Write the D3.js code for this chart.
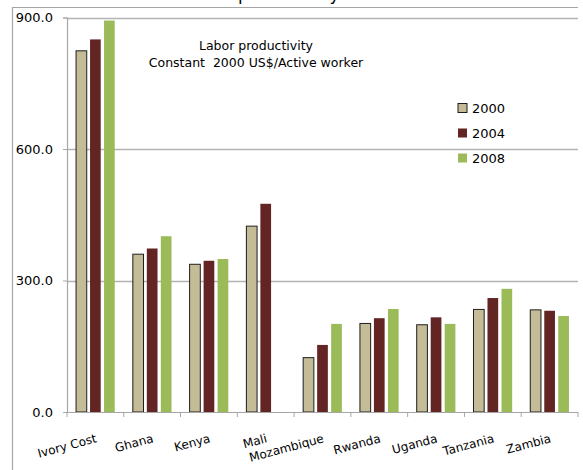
<!DOCTYPE html>
<html>
<head>
<meta charset="utf-8">
<script src="https://cdn.jsdelivr.net/npm/d3@7"></script>
<style>
  html, body { margin: 0; padding: 0; background: #fff; }
  svg { display: block; }
  text { font-family: "DejaVu Sans", sans-serif; fill: #000; }
</style>
</head>
<body>
<svg id="chart" width="583" height="470"></svg>
<script>
// Labor productivity by country, constant 2000 US$ per active worker
const countries = ["Ivory Cost", "Ghana", "Kenya", "Mali", "Mozambique", "Rwanda", "Uganda", "Tanzania", "Zambia"];
const years = ["2000", "2004", "2008"];
const values2000 = [824, 360, 337, 424, 124, 202, 199, 234, 233];
const values2004 = [850, 373, 345, 475, 153, 214, 216, 260, 231];
const values2008 = [893, 401, 349, null, 201, 235, 201, 281, 219];
const yTicks = [0, 300, 600, 900];
const colors = ["#C4BC96", "#632523", "#9BBB59"];

const series = [values2000, values2004, values2008];
const rows = countries.map((c, i) => ({
  country: c,
  vals: years.map((yr, k) => ({ year: yr, k, value: series[k][i] }))
}));

const svg = d3.select("#chart");
const plotLeft = 67, plotRight = 578, plotTop = 17.5, plotBottom = 412;

const x0 = d3.scaleBand().domain(countries).range([plotLeft, plotRight]).paddingInner(0).paddingOuter(0);
const x1 = d3.scaleBand().domain(years).range([0, x0.bandwidth()]).paddingInner(0.236).paddingOuter(0.646);
const y = d3.scaleLinear().domain([0, 900]).range([plotBottom, plotTop]);

// Outer chart frame (left and top edges)
svg.append("path")
  .attr("d", `M12.5,470 L12.5,7.5 L578,7.5`)
  .attr("fill", "none").attr("stroke", "#a6a6a6").attr("stroke-width", 1.2);

// Clipped chart title
svg.append("text")
  .attr("x", 262).attr("y", 0)
  .attr("text-anchor", "middle")
  .style("font-size", "17px")
  .text("Labor productivity");

// Horizontal gridlines
svg.append("g")
  .selectAll("line")
  .data(yTicks.filter(t => t > 0))
  .join("line")
  .attr("x1", plotLeft).attr("x2", plotRight)
  .attr("y1", d => Math.round(y(d)) + 0.5).attr("y2", d => Math.round(y(d)) + 0.5)
  .attr("stroke", "#b3b3b3").attr("stroke-width", 1.5);

// Y axis
const yAxis = svg.append("g")
  .attr("transform", `translate(${plotLeft},0)`)
  .call(d3.axisLeft(y).tickValues(yTicks).tickSize(4).tickPadding(10).tickFormat(d3.format(".1f")));
yAxis.select(".domain").attr("stroke", "#a6a6a6").attr("stroke-width", 1.2);
yAxis.selectAll(".tick line").attr("stroke", "#a6a6a6");
yAxis.selectAll(".tick text").style("font-size", "13px").style("font-family", "DejaVu Sans, sans-serif").attr("fill", "#000");

// Bars
const groups = svg.append("g")
  .selectAll("g")
  .data(rows)
  .join("g")
  .attr("transform", d => `translate(${x0(d.country)},0)`);

groups.selectAll("rect")
  .data(d => d.vals.filter(v => v.value != null))
  .join("rect")
  .attr("x", d => x1(d.year))
  .attr("width", x1.bandwidth())
  .attr("y", d => y(d.value))
  .attr("height", d => y(0) - y(d.value))
  .attr("fill", d => colors[d.k])
  .attr("stroke", d => d.k === 0 ? "#1e1e1e" : "none")
  .attr("stroke-width", 1);

// X axis
const xAxis = svg.append("g")
  .attr("transform", `translate(0,${plotBottom})`);
xAxis.append("line")
  .attr("x1", plotLeft - 4).attr("x2", plotRight)
  .attr("y1", 0.5).attr("y2", 0.5)
  .attr("stroke", "#a6a6a6").attr("stroke-width", 1.2);
xAxis.selectAll("line.tick")
  .data(countries.map(c => x0(c)).concat([plotRight]))
  .join("line")
  .attr("class", "tick")
  .attr("x1", d => d).attr("x2", d => d)
  .attr("y1", 0).attr("y2", 5)
  .attr("stroke", "#a6a6a6");
xAxis.selectAll("text")
  .data(countries)
  .join("text")
  .attr("text-anchor", "end")
  .attr("transform", d => `translate(${x0(d) + x0.bandwidth() / 2 + 2},30) rotate(-15)`)
  .style("font-size", "12px")
  .text(d => d);

// Note inside the plot
const note = svg.append("g").attr("text-anchor", "middle");
note.append("text").attr("x", 256).attr("y", 50).style("font-size", "12.5px").text("Labor productivity");
note.append("text").attr("x", 256).attr("y", 67).style("font-size", "12.5px").style("white-space", "pre").text("Constant  2000 US$/Active worker");

// Legend
const legend = svg.append("g")
  .selectAll("g")
  .data(years)
  .join("g")
  .attr("transform", (d, i) => `translate(458,${108 + i * 25})`);
legend.append("rect")
  .attr("x", 0).attr("y", -4.5).attr("width", 9).attr("height", 9)
  .attr("fill", (d, i) => colors[i])
  .attr("stroke", (d, i) => i === 0 ? "#1e1e1e" : "none");
legend.append("text")
  .attr("x", 14).attr("y", 5)
  .style("font-size", "13px")
  .text(d => d);
</script>
</body>
</html>
